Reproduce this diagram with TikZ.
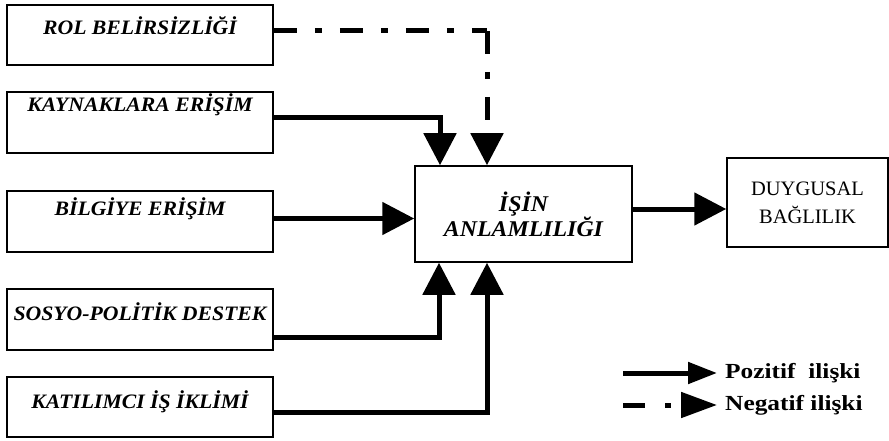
\documentclass[tikz,border=0pt]{standalone}
\usepackage{fontspec}
\setmainfont{Liberation Serif}
\newfontfamily\labelfont[FakeStretch=1.06]{Liberation Serif}
\newfontfamily\legendfont[FakeStretch=1.18]{Liberation Serif}
\usetikzlibrary{arrows.meta}
\tikzstyle{box} = [rectangle, draw=black, line width=1.5pt, inner sep=0pt]
\tikzstyle{boxtext} = [inner sep=0pt, anchor=base, font=\labelfont\bfseries\itshape\fontsize{20.5}{25}\selectfont]
\tikzstyle{arrow} = [line width=5pt, -{Triangle[length=32pt,width=32pt]}]
\tikzstyle{negarrow} = [arrow, dash pattern=on 23pt off 18pt on 7pt off 18pt]
\tikzstyle{legendtext} = [inner sep=0pt, anchor=base west, font=\legendfont\bfseries\fontsize{21.5}{25}\selectfont]

\begin{document}
\begin{tikzpicture}[x=1pt,y=-1pt]
\useasboundingbox (0,0) rectangle (889,441);
% left boxes
\node[box, minimum width=266pt, minimum height=60pt] (rol) at (140,35) {};
\node[box, minimum width=266pt, minimum height=61pt] (kay) at (140,122.5) {};
\node[box, minimum width=266pt, minimum height=61pt] (bil) at (140,221.5) {};
\node[box, minimum width=266pt, minimum height=61pt] (sos) at (140,319.5) {};
\node[box, minimum width=266pt, minimum height=60pt] (kat) at (140,407) {};
\node[boxtext] (roltxt) at (140,35) {ROL BELİRSİZLİĞİ};
\node[boxtext] (kaytxt) at (140,112) {KAYNAKLARA ERİŞİM};
\node[boxtext] (biltxt) at (140,215) {BİLGİYE ERİŞİM};
\node[boxtext] (sostxt) at (140,320) {SOSYO-POLİTİK DESTEK};
\node[boxtext] (kattxt) at (140,408) {KATILIMCI İŞ İKLİMİ};
% middle and right boxes
\node[box, minimum width=217pt, minimum height=96pt, align=center,
      font=\labelfont\bfseries\itshape\fontsize{22.5}{25}\selectfont] (isin) at (523.5,214) {İŞİN\\ANLAMLILIĞI};
\node[box, minimum width=161pt, minimum height=89pt, align=center,
      font=\fontsize{20.5}{28}\selectfont] (duy) at (807.5,202.5) {DUYGUSAL\\BAĞLILIK};
% connectors
\coordinate (c1) at ([yshift=4pt]rol.east -| 487,0);
\draw[line width=5pt, dash pattern=on 23pt off 18pt on 7pt off 18pt] ([yshift=4pt]rol.east) -- (c1);
\draw[negarrow] (c1) -- (c1 |- isin.north);
\draw[arrow] ([yshift=5pt]kay.east) -| (440,0 |- isin.north);
\draw[arrow] ([yshift=3pt]bil.east) coordinate (b1) -- (b1 -| isin.west);
\draw[arrow] ([yshift=-18pt]sos.east) -| (439,0 |- isin.south);
\draw[arrow] ([yshift=-5pt]kat.east) -| (487,0 |- isin.south);
\draw[arrow] ([yshift=5pt]isin.east) coordinate (o1) -- (o1 -| duy.west);
% legend
\coordinate (p1) at (623,373);
\coordinate (p2) at (717,373);
\coordinate (n1) at (623,405);
\coordinate (n2) at (717,405);
\draw[line width=5pt, -{Triangle[length=29pt,width=21pt]}] (p1) -- (p2);
\draw[line width=5pt, dash pattern=on 22pt off 20pt on 6pt off 20pt,
      -{Triangle[length=36pt,width=25pt]}] (n1) -- (n2);
\node[legendtext] (pozt) at (725,378) {Pozitif\ \ ilişki};
\node[legendtext] (negt) at (725,410) {Negatif ilişki};
\end{tikzpicture}
\end{document}
